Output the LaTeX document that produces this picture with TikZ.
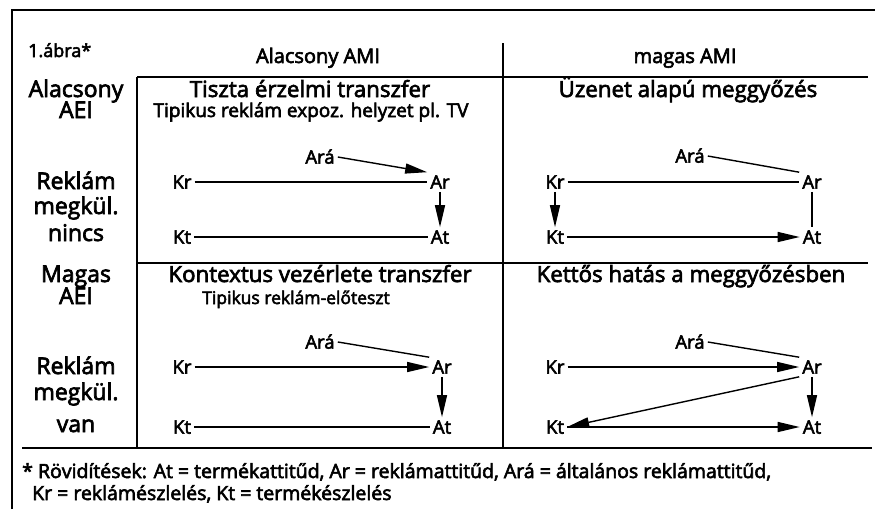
\documentclass[tikz,border=0pt]{standalone}
\usepackage{fontspec}
\setmainfont{Open Sans}[RawFeature={embolden=3}]
\usetikzlibrary{arrows.meta}
\begin{document}
\begin{tikzpicture}[x=1pt,y=-1pt,
  every node/.style={inner sep=0pt},
  frame/.style={line width=1.4pt},
  hdr/.style={font=\fontsize{20}{20}\selectfont, anchor=base},
  ttl/.style={font=\fontsize{22.3}{22}\selectfont, anchor=base},
  sub/.style={font=\fontsize{17.5}{17}\selectfont, anchor=base},
  rowl/.style={font=\fontsize{23}{23}\selectfont, anchor=base},
  lbl/.style={font=\fontsize{18.5}{18}\selectfont, text height=13.2pt, text depth=0pt, inner sep=3pt},
  foot/.style={font=\fontsize{19.5}{19}\selectfont, anchor=base west},
  ln/.style={line width=1.4pt},
  arr/.style={line width=1.4pt, -{Triangle[length=22pt,width=10pt]}},
]
\useasboundingbox[fill=white] (0,0) rectangle (875,509);

% frame lines
\coordinate (tl) at (12,10);
\coordinate (tr) at (875,10);
\coordinate (bl) at (12,509);
\draw[frame] (bl) -- (tl) -- (tr);
\coordinate (h1a) at (137,77);
\coordinate (h1b) at (868,77);
\draw[frame] (h1a) -- (h1b);
\coordinate (h2a) at (137,263);
\coordinate (h2b) at (868,263);
\draw[frame] (h2a) -- (h2b);
\coordinate (h3a) at (22,448);
\coordinate (h3b) at (872,448);
\draw[frame] (h3a) -- (h3b);
\coordinate (v1b) at (137,448);
\draw[frame] (h1a) -- (v1b);
\coordinate (v2a) at (503,43);
\coordinate (v2b) at (503,448);
\draw[frame] (v2a) -- (v2b);

% header
\node[hdr, font=\fontsize{18}{18}\selectfont, anchor=base west] (fig) at (28,57) {1.ábra*};
\node[hdr] (amilo) at (318,63) {Alacsony AMI};
\node[hdr] (amihi) at (685,63) {magas AMI};

% row labels
\node[rowl] (r1a) at (76,97) {Alacsony};
\node[rowl] (r1b) at (76,118) {AEI};
\node[rowl] (r1c) at (76,189) {Reklám};
\node[rowl] (r1d) at (76,214) {megkül.};
\node[rowl] (r1e) at (76,241) {nincs};
\node[rowl] (r2a) at (76,282) {Magas};
\node[rowl] (r2b) at (76,304) {AEI};
\node[rowl] (r2c) at (76,374) {Reklám};
\node[rowl] (r2d) at (76,400) {megkül.};
\node[rowl] (r2e) at (76,432) {van};

% titles
\node[ttl] (t1) at (310,97) {Tiszta érzelmi transzfer};
\node[sub, font=\fontsize{19}{19}\selectfont] (s1) at (311,117) {Tipikus reklám expoz. helyzet pl. TV};
\node[ttl] (t2) at (688,97) {Üzenet alapú meggyőzés};
\node[ttl] (t3) at (320,282) {Kontextus vezérlete transzfer};
\node[sub] (s3) at (296,304) {Tipikus reklám-előteszt};
\node[ttl] (t4) at (691,282) {Kettős hatás a meggyőzésben};

% cell 1
\node[lbl] (ara1) at (320,157) {Ará};
\node[lbl] (kr1) at (182,182) {Kr};
\node[lbl] (ar1) at (440,182) {Ar};
\node[lbl] (kt1) at (182,237) {Kt};
\node[lbl] (at1) at (440,237) {At};
\draw[arr] (ara1.east) -- (ar1.north west);
\draw[ln] (kr1) -- (ar1);
\draw[arr] (ar1) -- (at1);
\draw[ln] (kt1) -- (at1);

% cell 2
\node[lbl] (ara2) at (690,156) {Ará};
\node[lbl] (kr2) at (555,182) {Kr};
\node[lbl] (ar2) at (812,182) {Ar};
\node[lbl] (kt2) at (555,237) {Kt};
\node[lbl] (at2) at (812,237) {At};
\draw[ln] (ara2.east) -- (ar2.north west);
\draw[ln] (kr2) -- (ar2);
\draw[arr] (kr2) -- (kt2);
\draw[arr] (kt2) -- (at2);
\draw[ln] (ar2) -- (at2);

% cell 3
\node[lbl] (ara3) at (320,342) {Ará};
\node[lbl] (kr3) at (182,367) {Kr};
\node[lbl] (ar3) at (442,367) {Ar};
\node[lbl] (kt3) at (182,427) {Kt};
\node[lbl] (at3) at (442,427) {At};
\draw[ln] (ara3.east) -- (ar3.north west);
\draw[arr] (kr3) -- (ar3);
\draw[arr] (ar3) -- (at3);
\draw[ln] (kt3) -- (at3);

% cell 4
\node[lbl] (ara4) at (690,342) {Ará};
\node[lbl] (kr4) at (555,367) {Kr};
\node[lbl] (ar4) at (812,367) {Ar};
\node[lbl] (kt4) at (555,427) {Kt};
\node[lbl] (at4) at (812,427) {At};
\draw[ln] (ara4.east) -- (ar4.north west);
\draw[arr] (kr4) -- (ar4);
\draw[arr] (ar4.south west) -- (kt4.east);
\draw[arr] (kt4) -- (at4);
\draw[arr] (ar4) -- (at4);

% footnote
\node[foot] (f1) at (22,478) {* Rövidítések: At = termékattitűd, Ar = reklámattitűd, Ará = általános reklámattitűd,};
\node[foot] (f2) at (32,500) {Kr = reklámészlelés, Kt = termékészlelés};
\end{tikzpicture}
\end{document}
